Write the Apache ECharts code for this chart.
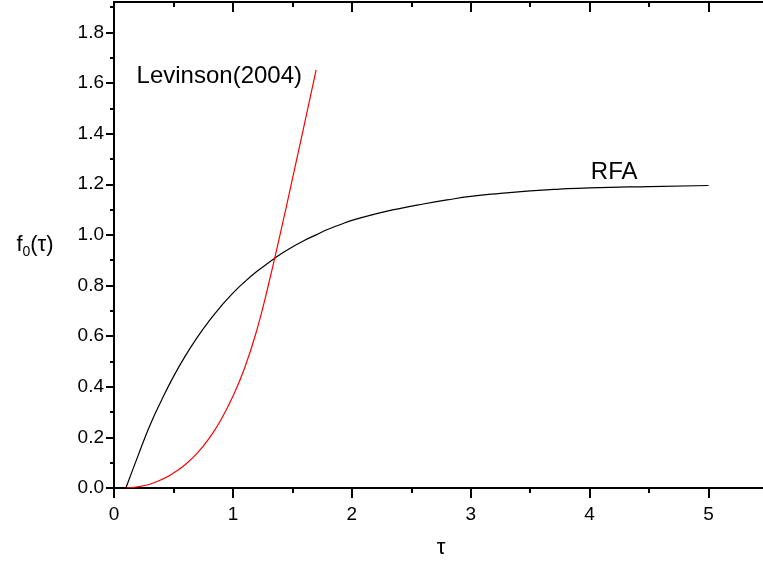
<!DOCTYPE html>
<html>
<head>
<meta charset="utf-8">
<script src="https://cdn.jsdelivr.net/npm/echarts@6/dist/echarts.min.js"></script>
<style>
html,body{margin:0;padding:0;background:#fff;}
#c{width:763px;height:567px;}
</style>
</head>
<body>
<div id="c"></div>
<script>
// RFA curve (black)
const rfaTau = [0.1,0.2,0.3,0.4,0.5,0.6,0.7,0.8,0.9,1.0,1.1,1.2,1.3,1.4,1.5,1.6,1.7,1.8,1.9,2.0,2.2,2.4,2.6,2.8,3.0,3.25,3.5,3.75,4.0,4.5,5.0];
const rfaF   = [0,0.125,0.245,0.347,0.44,0.522,0.595,0.66,0.718,0.77,0.815,0.855,0.89,0.923,0.952,0.978,1.0,1.022,1.04,1.057,1.083,1.104,1.122,1.138,1.152,1.164,1.174,1.181,1.186,1.191,1.195];
// Levinson (2004) curve (red)
const levTau = [0.1,0.2,0.3,0.4,0.5,0.6,0.7,0.8,0.9,1.0,1.1,1.2,1.3,1.4,1.5,1.6,1.7];
const levF   = [0,0.005,0.015,0.033,0.059,0.093,0.138,0.196,0.27,0.362,0.476,0.622,0.805,1.008,1.22,1.435,1.652];
// ticks
const xMajor = [0,1,2,3,4,5];
const xMinor = [0.5,1.5,2.5,3.5,4.5,5.5];
const yMajor = [0,0.2,0.4,0.6,0.8,1.0,1.2,1.4,1.6,1.8];
const yMinor = [0.1,0.3,0.5,0.7,0.9,1.1,1.3,1.5,1.7,1.9];
const xMin = 0, xMax = 5.5, yMin = 0, yMax = 1.92;
const labels = [
  {text:'Levinson(2004)', x:0.19, y:1.628},
  {text:'RFA', x:4.01, y:1.247}
];

const FONT = 'Liberation Sans';
const chart = echarts.init(document.getElementById('c'), null, {renderer:'canvas'});

function xAx(pos, ticks, len, inside, showLine, showLabel, extra) {
  return Object.assign({
    type:'value', position:pos, min:xMin, max:xMax, gridIndex:0,
    axisLine:{show:showLine, onZero:false, lineStyle:{color:'#000', width:2}},
    axisTick:{show:true, customValues:ticks, length:len, inside:inside, lineStyle:{color:'#000', width:2}},
    axisLabel:{show:showLabel, customValues:ticks, color:'#000', fontSize:19, fontFamily:FONT, margin:17},
    splitLine:{show:false}
  }, extra||{});
}
function yAx(pos, ticks, len, inside, showLine, showLabel, extra) {
  return Object.assign({
    type:'value', position:pos, min:yMin, max:yMax, gridIndex:0,
    axisLine:{show:showLine, onZero:false, lineStyle:{color:'#000', width:2}},
    axisTick:{show:true, customValues:ticks, length:len, inside:inside, lineStyle:{color:'#000', width:2}},
    axisLabel:{show:showLabel, customValues:ticks, color:'#000', fontSize:19, fontFamily:FONT, margin:10,
      formatter:function(v){return v.toFixed(1);}},
    splitLine:{show:false}
  }, extra||{});
}

const option = {
  backgroundColor:'#fff',
  animation:false,
  grid:{left:114, width:654, top:2, bottom:79, containLabel:false, outerBoundsMode:'none'},
  xAxis:[
    xAx('bottom', xMajor, 10, false, true, true, {
      name:'τ', nameLocation:'middle', nameGap:60,
      nameTextStyle:{fontSize:22, fontFamily:FONT, color:'#000', align:'center', verticalAlign:'middle'}
    }),
    xAx('bottom', xMinor, 5, false, false, false),
    xAx('top', xMajor, 10, true, true, false),
    xAx('top', xMinor, 5, true, false, false)
  ],
  yAxis:[
    yAx('left', yMajor, 8, false, true, true, {
      name:'{a|f}{b|0}{a|(τ)}', nameLocation:'middle', nameGap:79, nameRotate:0,
      nameTextStyle:{color:'#000', align:'center', verticalAlign:'middle',
        rich:{
          a:{fontSize:22, fontFamily:FONT, color:'#000', lineHeight:28},
          b:{fontSize:14, fontFamily:FONT, color:'#000', lineHeight:14, verticalAlign:'bottom'}
        }}
    }),
    yAx('left', yMinor, 4, false, false, false)
  ],
  series:[
    {
      type:'line', name:'RFA', xAxisIndex:0, yAxisIndex:0,
      data: rfaTau.map((t,i)=>[t, rfaF[i]]),
      smooth:true, showSymbol:false, symbol:'none',
      lineStyle:{color:'#000', width:1.2},
      markPoint:{
        symbol:'circle', symbolSize:1, itemStyle:{color:'rgba(0,0,0,0)'},
        label:{show:true, position:'inside', align:'left', verticalAlign:'middle',
          color:'#000', fontSize:24, fontFamily:FONT, formatter:function(p){return p.name;}},
        data: labels.slice(1).map(l=>({name:l.text, coord:[l.x, l.y]}))
      },
      z:3
    },
    {
      type:'line', name:'Levinson(2004)', xAxisIndex:0, yAxisIndex:0,
      data: levTau.map((t,i)=>[t, levF[i]]),
      smooth:true, showSymbol:false, symbol:'none',
      lineStyle:{color:'#ff0000', width:1.2},
      markPoint:{
        symbol:'circle', symbolSize:1, itemStyle:{color:'rgba(0,0,0,0)'},
        label:{show:true, position:'inside', align:'left', verticalAlign:'middle',
          color:'#000', fontSize:24, fontFamily:FONT, formatter:function(p){return p.name;}},
        data: labels.slice(0,1).map(l=>({name:l.text, coord:[l.x, l.y]}))
      },
      z:4
    }
  ]
};
chart.setOption(option);
</script>
</body>
</html>
